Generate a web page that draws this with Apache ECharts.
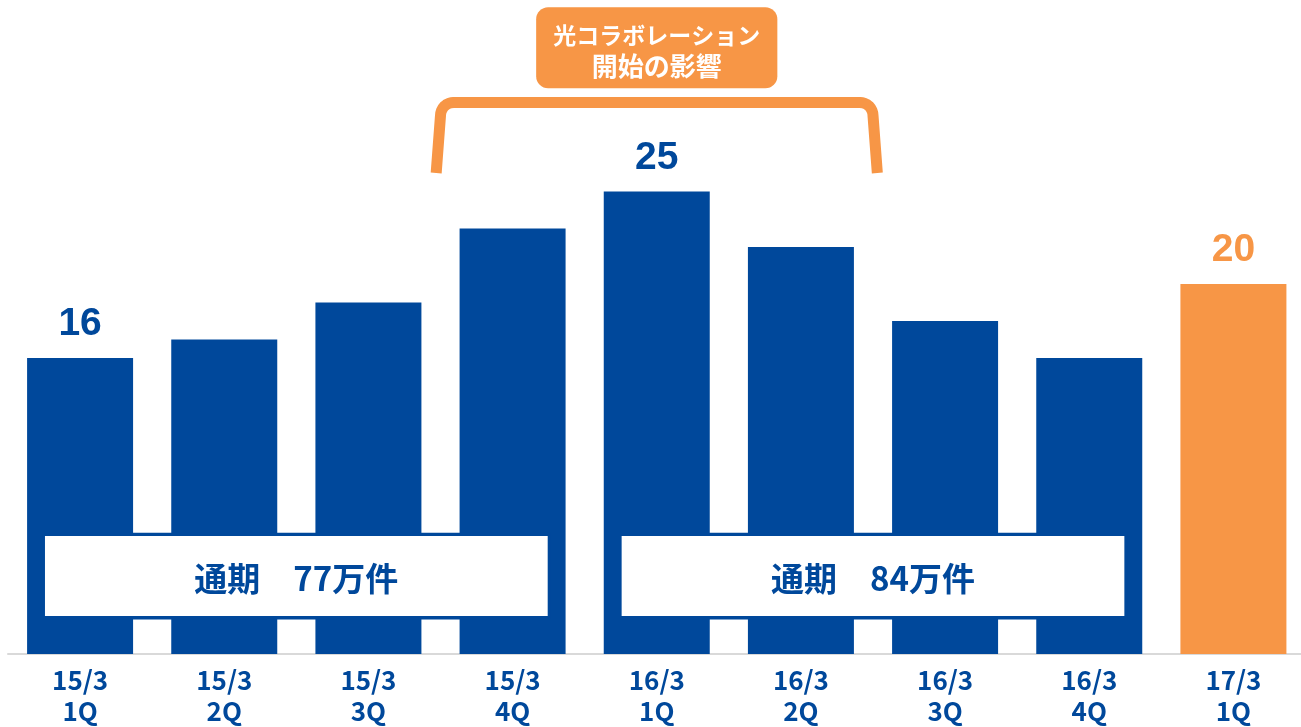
<!DOCTYPE html>
<html><head><meta charset="utf-8">
<script src="https://cdn.jsdelivr.net/npm/echarts@6/dist/echarts.min.js"></script>
<style>html,body{margin:0;padding:0;background:#fff;overflow:hidden}#c{width:1306px;height:727px}</style>
</head><body><div id="c"></div>
<script>
// ---- data ----
const categories = ['15/3\n1Q','15/3\n2Q','15/3\n3Q','15/3\n4Q','16/3\n1Q','16/3\n2Q','16/3\n3Q','16/3\n4Q','17/3\n1Q'];
const values = [16, 17, 19, 23, 25, 22, 18, 16, 20];
const labeledIndex = [0, 4, 8];
const highlightIndex = [8];
const periodStart = [0, 4];
const periodEnd = [3, 7];
const periodLabels = ['通期　77万件', '通期　84万件'];
const bracketStart = [3];
const bracketEnd = [5];
const bracketLine1 = ['光コラボレーション'];
const bracketLine2 = ['開始の影響'];

// ---- style ----
const BLUE = '#00489B';
const ORANGE = '#F79646';
const JP = '"Noto Sans CJK JP", "Noto Sans", sans-serif';

const chart = echarts.init(document.getElementById('c'), null, {renderer: 'canvas'});

const barData = values.map((v, i) => {
  const hi = highlightIndex.includes(i);
  return {
    value: v,
    itemStyle: {color: hi ? ORANGE : BLUE},
    label: {show: labeledIndex.includes(i), color: hi ? ORANGE : BLUE}
  };
});

function boxRender(params, api) {
  const i = params.dataIndex;
  const band = api.size([1, 0])[0];
  const p1 = api.coord([api.value(0), 6.47]);
  const p2 = api.coord([api.value(1), 1.96]);
  const x = p1[0] - 0.255 * band;
  const w = p2[0] + 0.255 * band - x;
  const y = p1[1], h = p2[1] - p1[1];
  return {
    type: 'group',
    children: [
      {type: 'rect', shape: {x: x, y: y, width: w, height: h},
       style: {fill: '#fff', stroke: BLUE, lineWidth: 3.3}},
      {type: 'text', x: x + w / 2, y: y + h / 2 + 2,
       style: {text: periodLabels[i], fill: BLUE, font: 'bold 33px ' + JP,
               align: 'center', verticalAlign: 'middle'}}
    ]
  };
}

function bracketRender(params, api) {
  const i = params.dataIndex;
  const band = api.size([1, 0])[0];
  const top = api.coord([api.value(0), 29.81]);
  const bot = api.coord([api.value(0), 26]);
  const right = api.coord([api.value(1), 29.81]);
  const lx = top[0] - 0.5 * band, rx = right[0] + 0.5 * band;
  const yT = top[1], yB = bot[1];
  const flare = 0.03 * band;
  const r = 13;
  const pts = [];
  pts.push([lx - flare, yB]);
  pts.push([lx, yT + r]);
  for (let k = 0; k <= 8; k++) {
    const a = Math.PI - (Math.PI / 2) * (k / 8);
    pts.push([lx + r + r * Math.cos(a), yT + r - r * Math.sin(a)]);
  }
  for (let k = 0; k <= 8; k++) {
    const a = Math.PI / 2 - (Math.PI / 2) * (k / 8);
    pts.push([rx - r + r * Math.cos(a), yT + r - r * Math.sin(a)]);
  }
  pts.push([rx + flare, yB]);
  const cx = (lx + rx) / 2;
  const bTop = api.coord([api.value(0), 34.96])[1];
  const bBot = api.coord([api.value(0), 30.58])[1];
  const bw = 1.673 * band;
  return {
    type: 'group',
    children: [
      {type: 'polyline', shape: {points: pts},
       style: {stroke: ORANGE, lineWidth: 11, fill: null, lineJoin: 'round'}},
      {type: 'rect', shape: {x: cx - bw / 2, y: bTop, width: bw, height: bBot - bTop, r: 12},
       style: {fill: ORANGE}},
      {type: 'text', x: cx, y: (bTop + bBot) / 2 + 3,
       style: {
         text: '{a|' + bracketLine1[i] + '}\n{b|' + bracketLine2[i] + '}',
         align: 'center', verticalAlign: 'middle',
         rich: {
           a: {fill: '#fff', font: 'bold 23px ' + JP, lineHeight: 31, align: 'center'},
           b: {fill: '#fff', font: 'bold 26px ' + JP, lineHeight: 31, align: 'center'}
         }
       }}
    ]
  };
}

chart.setOption({
  animation: false,
  backgroundColor: '#fff',
  grid: {left: 8, top: 6.5, width: 1297.5, height: 647.5, containLabel: false},
  xAxis: {
    type: 'category',
    data: categories,
    axisTick: {show: false},
    axisLine: {lineStyle: {color: '#D9D9D9', width: 2}},
    axisLabel: {interval: 0, color: BLUE, fontFamily: JP, fontWeight: 'bold',
                fontSize: 26, lineHeight: 31, margin: 11}
  },
  yAxis: {type: 'value', min: 0, max: 35, show: false, splitLine: {show: false}},
  series: [
    {
      type: 'bar',
      data: barData,
      barWidth: 106,
      z: 2,
      label: {
        position: 'top', distance: 14,
        fontFamily: '"Liberation Sans Narrow", "Liberation Sans", Arial, sans-serif',
        fontWeight: 'bold', fontSize: 39
      }
    },
    {
      type: 'custom',
      renderItem: boxRender,
      clip: false,
      z: 5,
      encode: {x: [0, 1]},
      data: periodStart.map((s, i) => [s, periodEnd[i]])
    },
    {
      type: 'custom',
      renderItem: bracketRender,
      clip: false,
      z: 5,
      encode: {x: [0, 1]},
      data: bracketStart.map((s, i) => [s, bracketEnd[i]])
    }
  ]
});
</script>
</body></html>
